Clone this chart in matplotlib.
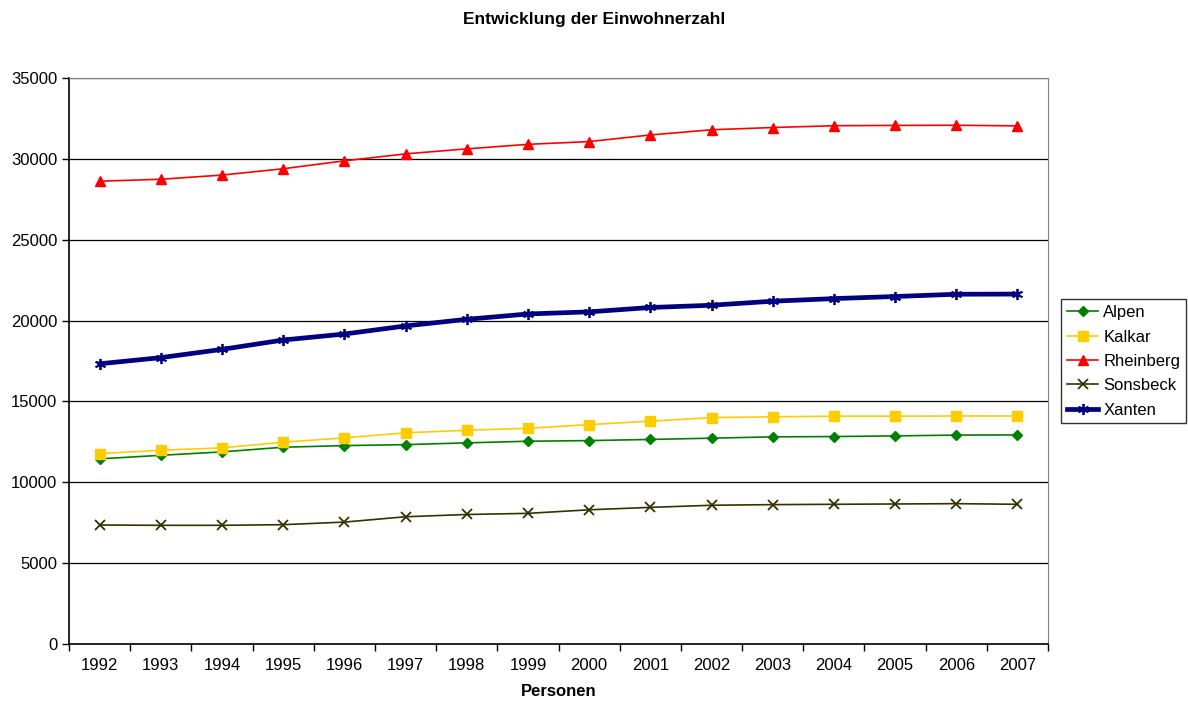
import matplotlib
matplotlib.use("Agg")
import matplotlib.pyplot as plt
import numpy as np

plt.rcParams['font.family'] = ['Liberation Sans', 'DejaVu Sans']

# data
years = [str(y) for y in range(1992, 2008)]
alpen = [11450, 11670, 11880, 12170, 12270, 12330, 12440, 12540,
         12580, 12650, 12730, 12810, 12830, 12870, 12920, 12930]
kalkar = [11780, 11980, 12130, 12480, 12750, 13060, 13220, 13340,
          13570, 13780, 14000, 14050, 14090, 14090, 14100, 14100]
rheinberg = [28620, 28740, 29000, 29390, 29880, 30310, 30620, 30900,
             31070, 31480, 31800, 31940, 32050, 32070, 32080, 32040]
sonsbeck = [7360, 7340, 7340, 7380, 7540, 7870, 8010, 8080,
            8300, 8450, 8580, 8620, 8640, 8660, 8680, 8640]
xanten = [17330, 17710, 18220, 18800, 19170, 19670, 20080, 20410,
          20540, 20810, 20950, 21200, 21360, 21490, 21630, 21640]

fig = plt.figure(figsize=(11.88, 7.03), dpi=100)
ax = fig.add_axes([0.0581, 0.0839, 0.8241, 0.8051])

x = np.arange(len(years))
ax.plot(x, alpen, color='#008000', lw=1.2, marker='D', ms=5, label='Alpen')
ax.plot(x, kalkar, color='#FFCC00', lw=1.2, marker='s', ms=7, label='Kalkar')
ax.plot(x, rheinberg, color='#FF0000', lw=1.2, marker='^', ms=7.5, label='Rheinberg')
ax.plot(x, sonsbeck, color='#333300', lw=1.2, marker='x', ms=7, mew=1.3, label='Sonsbeck')
ax.plot(x, xanten, color='#000080', lw=3.4, marker=(6, 2, 0), ms=8, mew=1.3, label='Xanten')

ax.set_ylim(0, 35000)
ax.set_yticks(np.arange(0, 35001, 5000))
ax.set_xlim(-0.5, len(years) - 0.5)
ax.set_xticks(np.arange(-0.5, len(years), 1.0))
ax.set_xticklabels([])
ax.set_xticks(x, minor=True)
ax.set_xticklabels(years, minor=True)
ax.tick_params(axis='x', which='major', direction='out', length=5, width=1)
ax.tick_params(axis='x', which='minor', length=0, pad=10, labelsize=12)
ax.tick_params(axis='y', direction='out', length=5, width=1, labelsize=12)

ax.yaxis.grid(True, color='black', lw=0.9)
ax.set_axisbelow(True)
for s in ['top', 'right']:
    ax.spines[s].set_color('#808080')
for s in ['left', 'bottom']:
    ax.spines[s].set_color('black')
ax.spines['left'].set_linewidth(1.2)
ax.spines['bottom'].set_linewidth(1.2)

fig.suptitle('Entwicklung der Einwohnerzahl', fontsize=12.5, fontweight='bold', y=0.983)
ax.set_xlabel('Personen', fontsize=12, fontweight='bold', labelpad=8)

leg = fig.legend(loc='center left', bbox_to_anchor=(0.893, 0.486), fontsize=12,
                 frameon=True, fancybox=False, edgecolor='black', borderpad=0.35,
                 handlelength=1.9, labelspacing=0.56, handletextpad=0.3,
                 borderaxespad=0)
leg.get_frame().set_linewidth(1.0)

fig.savefig('out.png', dpi=100)
